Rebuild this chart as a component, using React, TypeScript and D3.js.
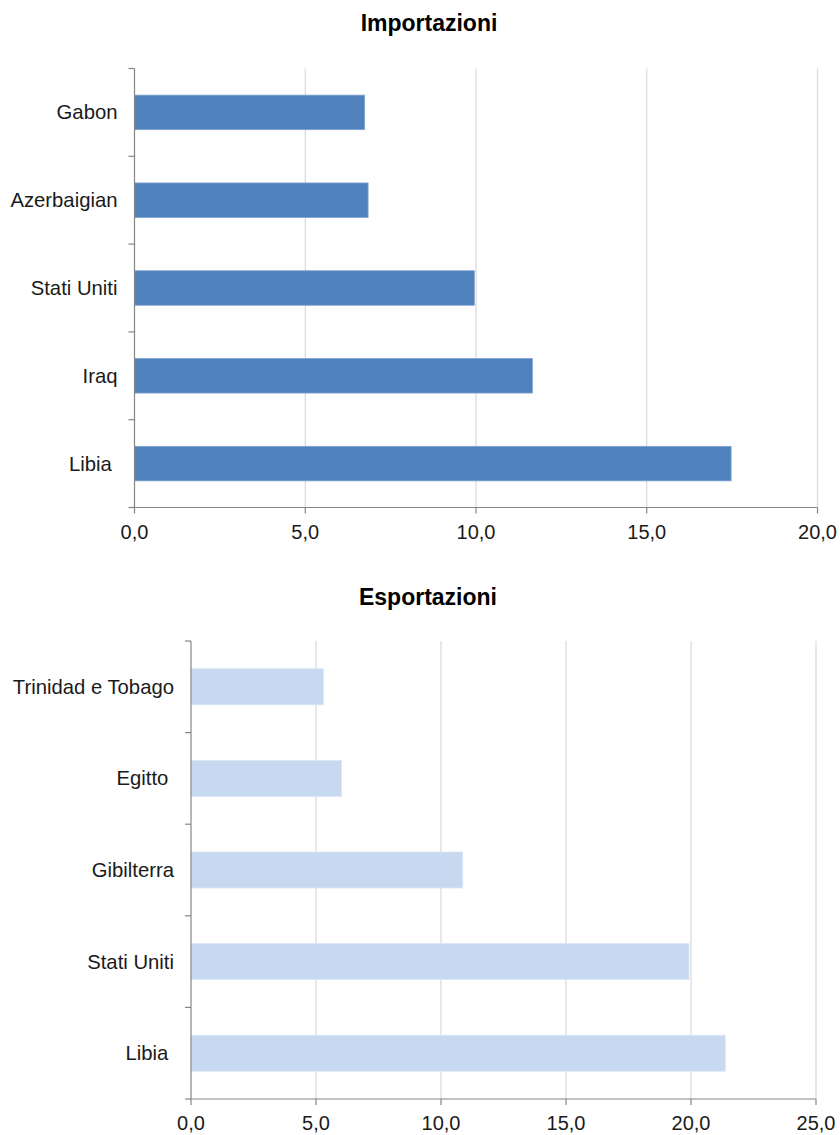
import React from "react";
import * as d3 from "d3";

const importCategories = ["Gabon", "Azerbaigian", "Stati Uniti", "Iraq", "Libia "];
const importValues = [6.74, 6.84, 9.95, 11.65, 17.47];
const importTicks = [0, 5, 10, 15, 20];

const exportCategories = ["Trinidad e Tobago", "Egitto ", "Gibilterra", "Stati Uniti", "Libia "];
const exportValues = [5.29, 6.02, 10.87, 19.92, 21.37];
const exportTicks = [0, 5, 10, 15, 20, 25];

const FONT = "'Liberation Sans', Arial, sans-serif";
const fmt = (v: number) => d3.format(".1f")(v).replace(".", ",");

type PanelProps = {
  title: string;
  titleX: number;
  titleY: number;
  categories: string[];
  values: number[];
  ticks: number[];
  left: number;
  right: number;
  top: number;
  bottom: number;
  color: string;
  stroke: string;
};

function Panel(p: PanelProps) {
  const x = d3.scaleLinear().domain([0, p.ticks[p.ticks.length - 1]]).range([p.left, p.right]);
  const y = d3
    .scaleBand<string>()
    .domain(p.categories)
    .range([p.top, p.bottom])
    .paddingInner(0.607)
    .paddingOuter(0.3035);
  const step = y.step();
  const edges = d3.range(p.categories.length + 1).map((i) => p.top + i * step);
  const axisColor = "#868686";
  return (
    <g>
      <text
        x={p.titleX}
        y={p.titleY}
        textAnchor="middle"
        fontFamily={FONT}
        fontWeight="bold"
        fontSize={23}
        fill="#000"
      >
        {p.title}
      </text>
      {p.ticks.slice(1).map((t) => (
        <line key={"g" + t} x1={x(t)} x2={x(t)} y1={p.top} y2={p.bottom} stroke="#D9D9D9" strokeWidth={1.2} />
      ))}
      {p.categories.map((c, i) => (
        <rect
          key={c}
          x={x(0)}
          y={y(c)!}
          width={x(p.values[i]) - x(0)}
          height={y.bandwidth()}
          fill={p.color}
          stroke={p.stroke}
          strokeWidth={0.8}
        />
      ))}
      <line x1={p.left} x2={p.left} y1={p.top} y2={p.bottom} stroke={axisColor} strokeWidth={1.2} />
      <line x1={p.left} x2={p.right} y1={p.bottom} y2={p.bottom} stroke={axisColor} strokeWidth={1.2} />
      {edges.map((e, i) => (
        <line key={"yt" + i} x1={p.left - 6} x2={p.left} y1={e} y2={e} stroke={axisColor} strokeWidth={1.2} />
      ))}
      {p.ticks.map((t) => (
        <g key={"xt" + t}>
          <line x1={x(t)} x2={x(t)} y1={p.bottom} y2={p.bottom + 6} stroke={axisColor} strokeWidth={1.2} />
          <text
            x={x(t)}
            y={p.bottom + 31}
            textAnchor="middle"
            fontFamily={FONT}
            fontSize={20}
            fill="#1a1a1a"
          >
            {fmt(t)}
          </text>
        </g>
      ))}
      {p.categories.map((c) => (
        <text
          key={"l" + c}
          x={p.left - 17}
          y={y(c)! + y.bandwidth() / 2 + 7}
          textAnchor="end"
          fontFamily={FONT}
          fontSize={20.3}
          fill="#1a1a1a"
          style={{ whiteSpace: "pre" }}
        >
          {c}
        </text>
      ))}
    </g>
  );
}

export default function App() {
  return (
    <svg
      width={840}
      height={1135}
      style={{ position: "absolute", left: 0, top: 0, background: "#fff" }}
    >
      <rect x={0} y={0} width={840} height={1135} fill="#fff" />
      <Panel
        title="Importazioni"
        titleX={429}
        titleY={30.7}
        categories={importCategories}
        values={importValues}
        ticks={importTicks}
        left={134.5}
        right={817.5}
        top={68.5}
        bottom={507.5}
        color="#4F81BD"
        stroke="#7fa3d0"
      />
      <Panel
        title="Esportazioni"
        titleX={428}
        titleY={605}
        categories={exportCategories}
        values={exportValues}
        ticks={exportTicks}
        left={191}
        right={816}
        top={641}
        bottom={1099}
        color="#C6D9F1"
        stroke="#dbe7f6"
      />
    </svg>
  );
}
